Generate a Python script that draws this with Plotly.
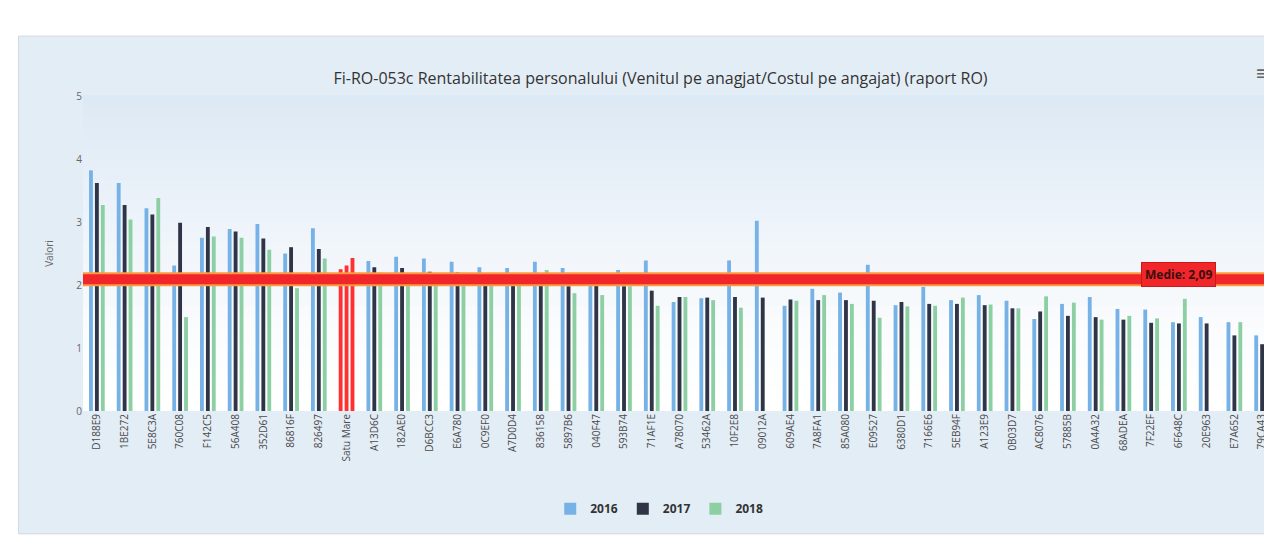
import plotly.graph_objects as go

categories = ["D188E9", "1BE272", "5E8C3A", "760C08", "F142C5", "56A408", "352D61", "86816F",
              "826497", "Satu Mare", "A13D6C", "182AE0", "D6BCC3", "E6A780", "0C9EF0", "A7D0D4",
              "836158", "5897B6", "040F47", "593B74", "71AF1E", "A78070", "53462A", "10F2E8",
              "09012A", "609AE4", "7A8FA1", "85A080", "E09527", "6380D1", "7166E6", "5EB94F",
              "A123E9", "0B03D7", "AC8076", "57885B", "0A4A32", "68ADEA", "7F22EF", "6F648C",
              "20E963", "E7A652", "79CA43"]

v2016 = [3.82, 3.62, 3.22, 2.31, 2.75, 2.89, 2.97, 2.50, 2.90, 2.25, 2.38, 2.45, 2.42, 2.37, 2.28,
         2.27, 2.37, 2.27, 2.00, 2.24, 2.39, 1.73, 1.79, 2.39, 3.02, 1.67, 1.94, 1.88, 2.32, 1.68,
         1.97, 1.76, 1.84, 1.75, 1.46, 1.70, 1.81, 1.62, 1.61, 1.41, 1.49, 1.41, 1.20]
v2017 = [3.62, 3.27, 3.12, 2.99, 2.92, 2.85, 2.74, 2.60, 2.57, 2.31, 2.28, 2.27, 2.21, 2.20, 2.02,
         2.01, 2.00, 1.98, 1.99, 1.98, 1.91, 1.81, 1.80, 1.81, 1.80, 1.77, 1.76, 1.76, 1.75, 1.73,
         1.70, 1.70, 1.68, 1.63, 1.58, 1.51, 1.49, 1.45, 1.40, 1.39, 1.39, 1.20, 1.06]
v2018 = [3.27, 3.04, 3.38, 1.49, 2.77, 2.75, 2.56, 1.95, 2.42, 2.43, 2.20, 2.05, 2.00, 2.05, 2.00,
         2.00, 2.24, 1.87, 1.84, 1.98, 1.67, 1.81, 1.76, 1.64, None, 1.75, 1.84, 1.70, 1.48, 1.66,
         1.67, 1.80, 1.69, 1.63, 1.82, 1.72, 1.45, 1.51, 1.47, 1.78, None, 1.41, 1.00]

series_names = ["2016", "2017", "2018"]
mean_value = 2.09
mean_label = "Medie: 2,09"
highlight = "Satu Mare"

title_text = "Fi-RO-053c Rentabilitatea personalului (Venitul pe anagjat/Costul pe angajat) (raport RO)"
y_title = "Valori"

colors = ["#76b2e6", "#2f3447", "#8ccfa3"]
hl_color = "#ff3030"

fig = go.Figure()
for name, vals, col in zip(series_names, [v2016, v2017, v2018], colors):
    bar_colors = [hl_color if c == highlight else col for c in categories]
    fig.add_trace(go.Bar(
        x=categories, y=vals, name=name,
        marker=dict(color=bar_colors, line=dict(width=0)),
    ))

# container (drawn first, underneath everything)
fig.add_shape(type="rect", xref="paper", yref="paper", x0=-0.054, x1=1.01, y0=-0.39, y1=1.19,
              fillcolor="#e3edf6", line=dict(color="#d0d8e0", width=1), layer="below")

# smooth vertical background gradient in the plot area (white at bottom -> light blue at top)
n_bands = 30
c_bottom = (255, 255, 255)
c_top = (221, 233, 245)
for i in range(n_bands):
    t = (i / (n_bands - 1)) ** 1.3
    rgb = tuple(round(a + (b - a) * t) for a, b in zip(c_bottom, c_top))
    fig.add_shape(type="rect", xref="paper", yref="paper", x0=0, x1=1,
                  y0=i / n_bands, y1=(i + 1) / n_bands + 0.002,
                  fillcolor="rgb(%d,%d,%d)" % rgb, line=dict(width=0), layer="below")

# mean plot line
fig.add_shape(type="line", xref="paper", yref="y", x0=0, x1=1, y0=mean_value, y1=mean_value,
              line=dict(color="#ff9a3c", width=14), layer="above")
fig.add_shape(type="line", xref="paper", yref="y", x0=0, x1=1, y0=mean_value, y1=mean_value,
              line=dict(color="#f0262a", width=10), layer="above")
fig.add_annotation(x=39, y=mean_value, xref="x", yref="y", text="<b>" + mean_label + "</b>",
                   showarrow=False, bgcolor="#f0262a", bordercolor="#c81a1a", borderwidth=1,
                   font=dict(family="Open Sans, DejaVu Sans", size=12, color="#3a1010"),
                   yshift=5, borderpad=3)

# menu icon
fig.add_annotation(x=0.998, y=1.125, xref="paper", yref="paper", text="≡", showarrow=False,
                   font=dict(size=20, color="#666666"))

fig.update_layout(
    width=1272, height=552,
    margin=dict(l=75, r=4, t=88, b=149),
    paper_bgcolor="#ffffff",
    plot_bgcolor="rgba(0,0,0,0)",
    barmode="group", bargap=0.36, bargroupgap=0.35,
    title=dict(text=title_text, x=0.513, xanchor="center", xref="container",
               y=0.873, yanchor="middle", yref="container",
               font=dict(family="Open Sans, DejaVu Sans", size=16, color="#333333")),
    font=dict(family="Open Sans, DejaVu Sans", color="#666666"),
    showlegend=True,
    legend=dict(orientation="h", x=0.483, xanchor="center", y=-0.31, yanchor="middle",
                font=dict(size=12, color="#333333", weight="bold"), itemwidth=30,
                bgcolor="rgba(0,0,0,0)"),
    xaxis=dict(tickangle=-90, tickfont=dict(size=10, color="#4a4a4a"), showgrid=False,
               showline=False, ticks=""),
    yaxis=dict(range=[0, 5], dtick=1, tickfont=dict(size=10, color="#666666"),
               showgrid=False, zeroline=False,
               title=dict(text=y_title, font=dict(size=10, color="#666666"), standoff=20)),
)

fig.write_html("out.html")
